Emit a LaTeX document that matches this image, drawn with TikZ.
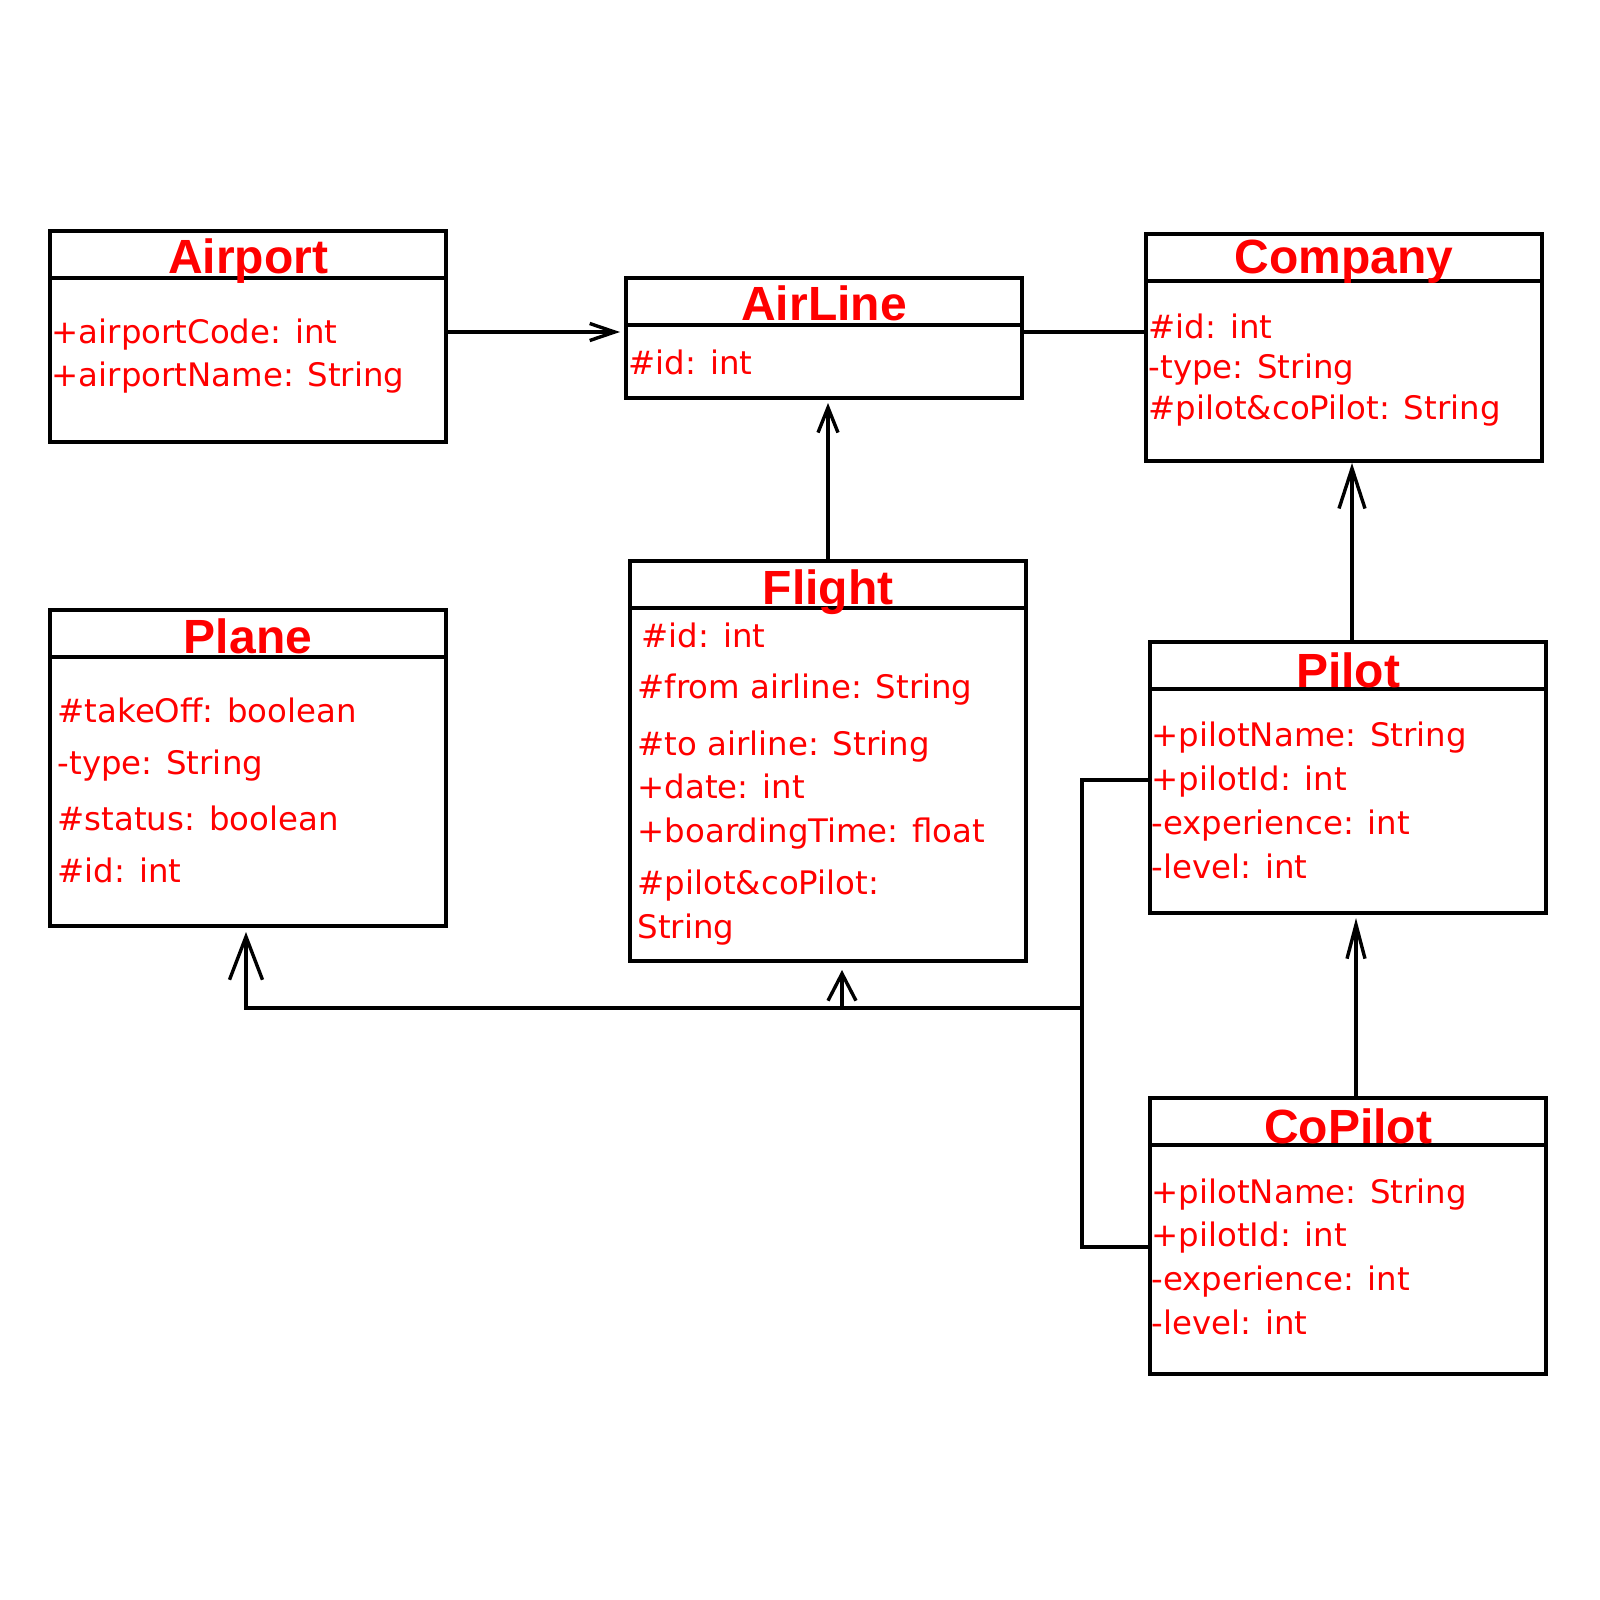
\documentclass[tikz,border=0pt]{standalone}
\usepackage{fontspec}
\setmainfont{DejaVu Sans}
\newfontfamily\headfont{Liberation Sans}
\usetikzlibrary{arrows.meta}
\begin{document}
\begin{tikzpicture}[x=.5pt,y=-.5pt,line width=1.7pt,line join=miter,
  classbox/.style={draw,inner sep=0pt,outer sep=0pt,anchor=north west},
  classname/.style={anchor=base,inner sep=0pt,text=red,
    font=\headfont\fontsize{24}{28}\bfseries\selectfont},
  attr/.style={anchor=base west,inner sep=0pt,text=red,
    font=\fontsize{16.2}{19}\selectfont}]
  \useasboundingbox (0,0) rectangle (1600,1600);
  \fill[white] (0,0) rectangle (1600,1600);
  % the seven class boxes
  \node[classbox,minimum width=198pt,minimum height=105.5pt] (airport) at (50,231) {};
  \node[classbox,minimum width=198pt,minimum height=60pt] (airline) at (626,278) {};
  \node[classbox,minimum width=198pt,minimum height=113.5pt] (company) at (1146,234) {};
  \node[classbox,minimum width=198pt,minimum height=158pt] (plane) at (50,610) {};
  \node[classbox,minimum width=198pt,minimum height=200pt] (flight) at (630,561) {};
  \node[classbox,minimum width=198pt,minimum height=135.5pt] (pilot) at (1150,642) {};
  \node[classbox,minimum width=198pt,minimum height=138pt] (copilot) at (1150,1098) {};
  % name compartments
  \foreach \n/\t/\b in {airport/Airport/21,airline/AirLine/21,company/Company/19.5,
      plane/Plane/21.5,flight/Flight/21.5,pilot/Pilot/22.5,copilot/CoPilot/22.5}{
    \draw ([yshift=-23.5pt]\n.north west) -- ([yshift=-23.5pt]\n.north east);
    \node[classname] (\n-name) at ([yshift=-\b pt]\n.north) {\t};
  }
  % attributes
  \foreach \t/\y [count=\i] in {{+airportCode: int}/343,{+airportName: String}/386.5}
    \node[attr] (airport-\i) at (50,\y) {\t};
  \node[attr] (airline-1) at (627,374) {\#id: int};
  \foreach \t/\y [count=\i] in {{\#id: int}/338.5,{-type: String}/378,
      {\#pilot\&coPilot: String}/419}
    \node[attr] (company-\i) at (1147,\y) {\t};
  \foreach \t/\y [count=\i] in {{\#takeOff: boolean}/722,{-type: String}/774,
      {\#status: boolean}/830,{\#id: int}/882}
    \node[attr] (plane-\i) at (56,\y) {\t};
  \node[attr] (flight-1) at (640,647) {\#id: int};
  \foreach \t/\y [count=\i from 2] in {{\#from airline: String}/698.8,
      {\#to airline: String}/755,{+date: int}/798.8,{+boardingTime: float}/842.6,
      {\#pilot\&coPilot:}/894.7,{String}/938.6}
    \node[attr] (flight-\i) at (636,\y) {\t};
  \foreach \n/\y in {pilot/746.7,copilot/1203}{
    \foreach \t [count=\i] in {{+pilotName: String},{+pilotId: int},
        {-experience: int},{-level: int}}
      \node[attr] (\n-\i) at (1150,\y+43.8*\i-43.8) {\t};
  }
  % connectors
  \coordinate (airrow) at (0,332);
  \coordinate (bus) at (1082,1008);
  \coordinate (plink) at (1082,780);
  \coordinate (clink) at (1082,1247);
  \draw[-{Straight Barb[length=12.5pt,width=8.5pt]},shorten >=3pt]
    (airport.east |- airrow) -- (airline.west |- airrow);
  \draw (airline.east |- airrow) -- (company.west |- airrow);
  \draw[-{Straight Barb[length=12.5pt,width=10pt]},shorten >=2.5pt]
    (flight.north) -- (flight.north |- airline.south);
  \draw[-{Straight Barb[length=20pt,width=13pt]},shorten >=1pt]
    ([xshift=2pt]pilot.north) -- ([xshift=2pt]pilot.north |- company.south);
  \draw[-{Straight Barb[length=17pt,width=9pt]},shorten >=2.5pt]
    ([xshift=4pt]copilot.north) -- ([xshift=4pt]copilot.north |- pilot.south);
  \draw (pilot.west |- plink) -- (plink) -- (clink) -- (copilot.west |- clink);
  \draw[-{Straight Barb[length=21.5pt,width=16.5pt]},shorten >=3pt]
    (bus) -| ([xshift=-1pt]plane.south);
  \draw[-{Straight Barb[length=13.5pt,width=14pt]},shorten >=4.5pt]
    ([xshift=7pt]flight.south |- bus) -- ([xshift=7pt]flight.south);
\end{tikzpicture}
\end{document}
